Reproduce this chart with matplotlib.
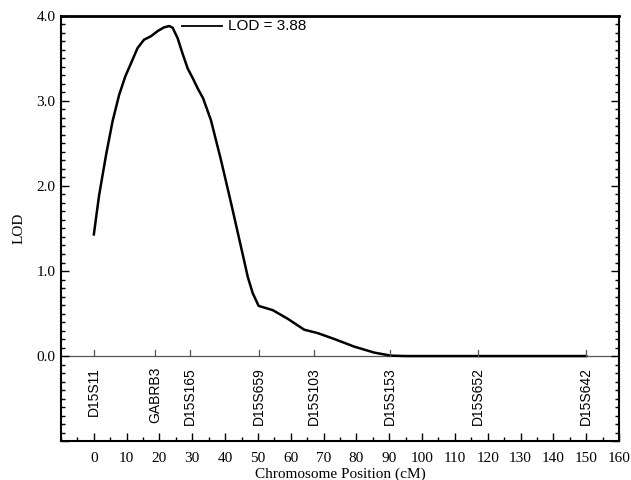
import matplotlib
matplotlib.use("Agg")
import matplotlib.pyplot as plt
from matplotlib.ticker import MultipleLocator, FixedLocator

# Data
pos_cm = [0, 1.6, 3.7, 5.7, 7.7, 9.6, 11.3, 13.3, 15.3, 17.4, 19.4, 21.4, 23.0, 24.0,
          25.5, 27.0, 28.6, 30.1, 31.6, 33.3, 35.7, 38.7, 41.8, 44.8, 46.9, 48.4,
          50.2, 54.5, 59.0, 64.1, 68.2, 73.3, 79.4, 85.5, 90.5, 95.0, 110, 130, 150]
lod = [1.43, 1.89, 2.36, 2.76, 3.07, 3.29, 3.44, 3.62, 3.72, 3.76, 3.82, 3.865, 3.88, 3.86,
       3.74, 3.56, 3.38, 3.27, 3.15, 3.03, 2.77, 2.31, 1.80, 1.29, 0.93, 0.74,
       0.59, 0.54, 0.44, 0.31, 0.27, 0.20, 0.11, 0.04, 0.005, 0.0, 0.0, 0.0, 0.0]
marker_names = ["D15S11", "GABRB3", "D15S165", "D15S659", "D15S103", "D15S153", "D15S652", "D15S642"]
marker_pos = [0, 18.6, 29.3, 50.3, 67.0, 90.2, 117.0, 150.0]
legend_label = "LOD = 3.88"

serif = ["Liberation Serif", "DejaVu Serif"]
sans = ["Liberation Sans", "DejaVu Sans"]

fig = plt.figure(figsize=(6.31, 4.80), dpi=100)
ax = fig.add_axes([0.0967, 0.081, 0.8843, 0.886])

ax.plot(pos_cm, lod, color="black", lw=1.8, solid_joinstyle="round")
ax.axhline(0, color="#555555", lw=0.9, zorder=0)

for name, p in zip(marker_names, marker_pos):
    ax.plot([p, p], [0, 0.07], color="#555555", lw=0.9)
    ax.text(p, -0.13, name, rotation=90, ha="center", va="top",
            fontsize=10, family=sans)

# legend-like annotation
ax.plot([27.0, 39.0], [3.88, 3.88], color="black", lw=1.3)
ax.text(41.0, 3.88, legend_label, ha="left", va="center", fontsize=11, family=sans)

ax.set_xlim(-10, 160)
ax.set_ylim(-1.0, 4.0)

ax.xaxis.set_major_locator(MultipleLocator(10))
ax.xaxis.set_minor_locator(MultipleLocator(5))
ax.yaxis.set_major_locator(FixedLocator([-1, 0, 1, 2, 3, 4]))
ax.yaxis.set_minor_locator(MultipleLocator(0.1))

ax.set_xticks(range(0, 161, 10))
ax.set_xticklabels([str(v) for v in range(0, 161, 10)], family=serif, fontsize=11)
ax.set_yticks([-1, 0, 1, 2, 3, 4])
ax.set_yticklabels(["", "0.0", "1.0", "2.0", "3.0", "4.0"], family=serif, fontsize=11)

ax.tick_params(axis="both", which="both", direction="in", color="black")
ax.tick_params(axis="x", which="major", length=6, width=1.0, top=False, pad=8)
ax.tick_params(axis="x", which="minor", length=3, width=1.0, top=False)
ax.tick_params(axis="y", which="major", length=6, width=1.0, right=True, pad=4)
ax.tick_params(axis="y", which="minor", length=3, width=1.0, right=True)

for s in ax.spines.values():
    s.set_linewidth(1.5)
    s.set_color("black")
ax.spines["top"].set_linewidth(2.0)

ax.set_xlabel("Chromosome Position (cM)", family=serif, fontsize=11, labelpad=2)
ax.set_ylabel("LOD", family=serif, fontsize=11, labelpad=8)

fig.savefig("out.png", dpi=100)
